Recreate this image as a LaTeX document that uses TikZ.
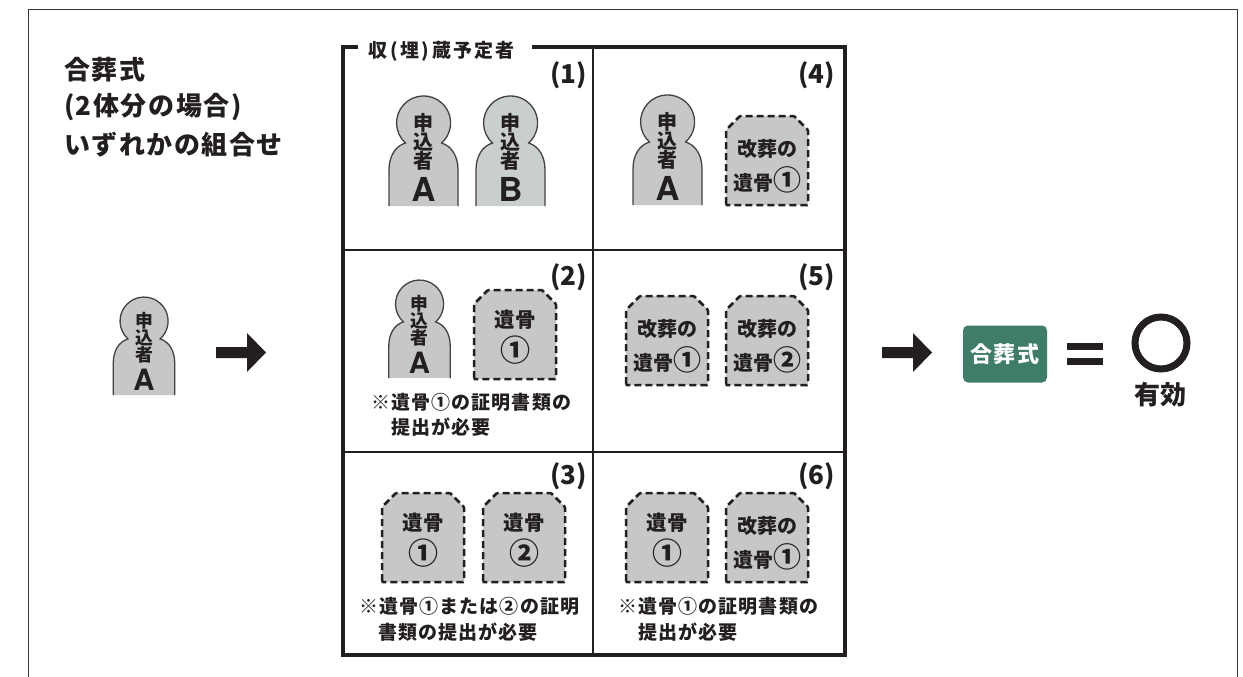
\documentclass[tikz,border=0pt]{standalone}
\usepackage{fontspec}
\setmainfont{Noto Sans CJK JP}
\newfontfamily\latinb{TeX Gyre Heros}
\newfontfamily\jph{Noto Sans CJK JP}[LetterSpace=6]
\newfontfamily\jpt{Noto Sans CJK JP}[LetterSpace=12]
\newfontfamily\jpn{Noto Sans CJK JP}[LetterSpace=6]
\definecolor{ink}{HTML}{231F20}
\definecolor{graya}{HTML}{C6C7C9}
\definecolor{grayb}{HTML}{C9CFCB}
\definecolor{tgreen}{HTML}{3F7D68}
\newcommand{\fs}[1]{\fontsize{#1}{#1}\selectfont\bfseries}
% name, cx, bottom y (positive down), scale, letter, fill
\newcommand{\person}[6]{%
 \begin{scope}[shift={(#2,-#3)},scale=#4]
  \path[fill=#6,draw=ink!85,line width=1.3pt] (-34.5,0) -- (-34.5,36) .. controls (-34.5,50) and (-28,60) .. (-18,63)
    arc[start angle=228,end angle=-48,radius=27] .. controls (28,60) and (34.5,50) .. (34.5,36) -- (34.5,0);
  \node[txt,font=\fs{\fpeval{20*#4}}] (#1a) at (0,83) {申};
  \node[txt,font=\fs{\fpeval{20*#4}}] (#1b) at (0,64) {込};
  \node[txt,font=\fs{\fpeval{20*#4}}] (#1c) at (0,45) {者};
  \node[txt,font=\latinb\fs{\fpeval{33*#4}}] (#1d) at (0,17) {#5};
 \end{scope}}
% name, left x, top y (positive down)
\newcommand{\tomb}[3]{%
 \path[tombline] (#2,-#3-89) -- (#2,-#3-14) -- (#2+14,-#3) -- (#2+68,-#3) -- (#2+82,-#3-14) -- (#2+82,-#3-89) -- cycle;
 \coordinate (#1) at (#2+41,-#3);}
\newcommand{\tombA}[4]{\tomb{#1}{#2}{#3}%
 \node[txt,font=\fs{20.5}] (#1x) at (#2+41,-#3-30) {遺骨};
 \node[txt,font=\fs{30}] (#1y) at (#2+41,-#3-60) {#4};}
\newcommand{\tombB}[4]{\tomb{#1}{#2}{#3}%
 \node[txt,font=\fs{20}] (#1x) at (#2+41,-#3-33) {改葬の};
 \node[txt,font=\fs{20}] (#1y) at (#2+41,-#3-64) {遺骨{\fs{28}#4}};}
\begin{document}
\begin{tikzpicture}[x=1pt,y=1pt,
  txt/.style={inner sep=0pt,outer sep=0pt,text=ink},
  tombline/.style={fill=graya,draw=ink,line width=2.5pt,dash pattern=on 7pt off 4pt,rounded corners=1pt},
  cellnum/.style={txt,anchor=east,font=\fs{26}},
  notetext/.style={txt,anchor=west,font=\jpn\fs{19}},
  headtext/.style={txt,anchor=west,font=\jph\fs{26}},
  blockarrow/.style={fill=ink,draw=none}]
\useasboundingbox (0,0) rectangle (1243,-677);
\fill[white] (0,0) rectangle (1243,-677);
% outer frame
\draw[ink!90,line width=1.8pt] (28.5,-677) -- (28.5,-9.5) -- (1237.5,-9.5) -- (1237.5,-677);
% heading
\node[headtext] (h1) at (64,-70) {合葬式};
\node[headtext] (h2) at (64,-107) {(2体分の場合)};
\node[headtext] (h3) at (64,-145) {いずれかの組合せ};
% grid
\draw[ink,line width=2pt] (593,-47) -- (593,-655);
\draw[ink,line width=2pt] (343,-250) -- (845,-250);
\draw[ink,line width=2pt] (343,-452) -- (845,-452);
\draw[ink,line width=3.5pt,line cap=butt] (358,-47) -- (343,-47) -- (343,-655) -- (845,-655) -- (845,-47) -- (532,-47);
\node[txt,anchor=west,font=\jpt\fs{19}] (title) at (368,-51) {収\,(埋)\,蔵予定者};
% cell numbers
\node[cellnum] (n1) at (587,-75) {(1)};
\node[cellnum] (n2) at (587,-277) {(2)};
\node[cellnum] (n3) at (587,-476) {(3)};
\node[cellnum] (n4) at (835,-75) {(4)};
\node[cellnum] (n5) at (835,-277) {(5)};
\node[cellnum] (n6) at (835,-476) {(6)};
% cell 1
\person{p1a}{423.5}{206}{1}{A}{graya}
\person{p1b}{510.5}{206}{1}{B}{grayb}
% cell 4
\person{p4a}{667.5}{205}{1}{A}{graya}
\tombB{t4}{726}{116}{①}
% cell 2
\person{p2a}{419.5}{378}{.89}{A}{graya}
\tombA{t2}{474}{290}{①}
\node[notetext] (c2a) at (371,-402) {※遺骨①の証明書類の};
\node[notetext] (c2b) at (391,-427) {提出が必要};
% cell 5
\tombB{t5a}{626}{296}{①}
\tombB{t5b}{726}{296}{②}
% cell 3
\tombA{t3a}{382}{493}{①}
\tombA{t3b}{483}{493}{②}
\node[notetext] (c3a) at (359,-606) {※遺骨①または②の証明};
\node[notetext] (c3b) at (378,-632) {書類の提出が必要};
% cell 6
\tombA{t6a}{626}{493}{①}
\tombB{t6b}{726}{493}{①}
\node[notetext] (c6a) at (618,-606) {※遺骨①の証明書類の};
\node[notetext] (c6b) at (638,-632) {提出が必要};
% left person and arrows
\person{p0}{144}{395}{.89}{A}{graya}
\path[blockarrow] (216,-347) -- (247,-347) -- (247,-333) -- (266,-352.5) -- (247,-372) -- (247,-358) -- (216,-358) -- cycle;
\path[blockarrow] (882,-347) -- (913,-347) -- (913,-333) -- (932,-352.5) -- (913,-372) -- (913,-358) -- (882,-358) -- cycle;
% result
\node[fill=tgreen,rounded corners=5pt,minimum width=84pt,minimum height=57pt,inner sep=0pt,text=white,font=\jph\fs{22}] (res) at (1005,-354) {合葬式};
\fill[ink] (1067,-343) rectangle (1103,-350);
\fill[ink] (1067,-358) rectangle (1103,-365);
\node[circle,draw=ink,line width=7pt,minimum size=52pt,inner sep=0pt] (ok) at (1161,-343) {};
\node[txt,font=\fs{26}] (oktext) at (1160,-395) {有効};
\end{tikzpicture}
\end{document}
